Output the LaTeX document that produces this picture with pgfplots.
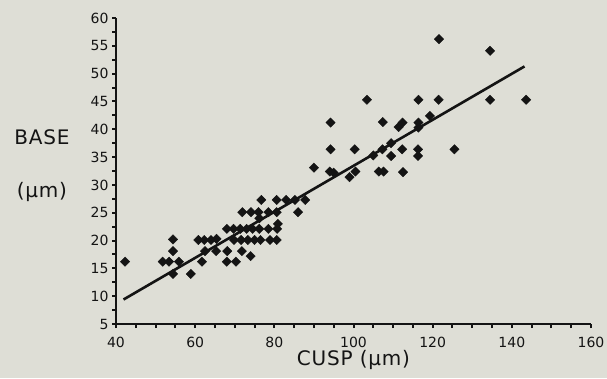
\documentclass[border=0pt]{standalone}
\usepackage{pgfplots}
\pgfplotsset{compat=1.18}
\usepackage{fontspec}
\setmainfont{DejaVu Sans}
\newfontfamily\lblfont[LetterSpace=4]{DejaVu Sans}
\newfontfamily\tkfont{DejaVu Sans}
\definecolor{bg}{RGB}{222,222,214}
\definecolor{ink}{RGB}{20,20,20}
\begin{document}
\begin{tikzpicture}[x=1bp,y=1bp]
\fill[bg] (0,0) rectangle (607,378);
\path[use as bounding box] (0,0) rectangle (607,378);
\begin{axis}[
  at={(116bp,54bp)}, anchor=south west,
  scale only axis, width=475bp, height=306bp,
  xmin=40, xmax=160, ymin=5, ymax=60,
  clip=false,
  axis x line=bottom, axis y line=left,
  axis line style={-, line width=2.4bp, draw=ink},
  xtick={40,60,...,160}, ytick={5,10,...,60},
  minor x tick num=3, minor y tick num=1,
  tick align=outside, major tick length=4bp, minor tick length=4bp,
  every tick/.style={draw=ink, line width=2bp},
  /pgf/number format/assume math mode=true,
  tick label style={font=\tkfont\fontsize{14bp}{16bp}\selectfont, text=ink},
  xticklabel style={yshift=-6bp},
  xlabel={CUSP (µm)},
  xlabel style={font=\lblfont\fontsize{20bp}{22bp}\selectfont, text=ink,
    at={(axis description cs:0.5,0)}, anchor=center, yshift=-36bp},
]
\addplot[only marks, mark=square*, mark size=3.3bp,
  mark options={rotate=45, fill=ink, draw=ink}] coordinates {
(42.3,16.2) (54.4,20.2) (54.4,18.1) (51.8,16.2) (53.4,16.2) (55.9,16.2)
(54.4,14.0) (58.9,14.0) (61.7,16.2) (60.8,20.1) (62.3,20.1) (64.0,20.1)
(65.4,20.3) (62.5,18.1) (65.3,18.1) (68.1,18.1) (71.8,18.1) (68.0,16.2)
(70.3,16.2) (74.0,17.2) (68.0,22.1) (69.7,22.1) (71.4,22.1) (73.0,22.1)
(74.5,22.1) (76.2,22.1) (78.5,22.1) (80.7,22.1) (80.9,23.0) (69.8,20.1)
(71.6,20.1) (73.3,20.1) (75.0,20.1) (76.5,20.1) (78.9,20.1) (80.6,20.1)
(71.9,25.1) (74.1,25.1) (76.0,25.1) (78.5,25.1) (80.6,25.1) (76.2,24.0)
(76.7,27.3) (80.6,27.3) (83.0,27.3) (85.2,27.3) (87.8,27.3) (86.0,25.1)
(90.0,33.1) (94.2,41.2) (94.2,36.4) (94.0,32.4) (95.0,32.2) (100.3,36.4)
(99.0,31.4) (100.5,32.4) (103.4,45.3) (105.0,35.3) (106.4,32.4) (107.6,32.4)
(107.4,41.3) (107.3,36.4) (109.5,37.5) (109.5,35.2) (111.4,40.4) (112.4,41.2)
(112.3,36.4) (112.5,32.3) (116.4,45.3) (116.4,41.2) (116.4,40.3) (116.3,36.4)
(116.3,35.2) (119.3,42.4) (121.5,45.3) (121.6,56.2) (125.5,36.4) (134.5,54.1)
(134.5,45.3) (143.6,45.3)
};
\addplot[draw=ink, line width=2.6bp] coordinates {(41.9,9.4) (143.2,51.3)};
\node[font=\lblfont\fontsize{20bp}{22bp}\selectfont, text=ink] at (rel axis cs:-0.156,0.611) {BASE};
\node[font=\lblfont\fontsize{20bp}{22bp}\selectfont, text=ink] at (rel axis cs:-0.156,0.431) {(µm)};
\end{axis}
\end{tikzpicture}
\end{document}
